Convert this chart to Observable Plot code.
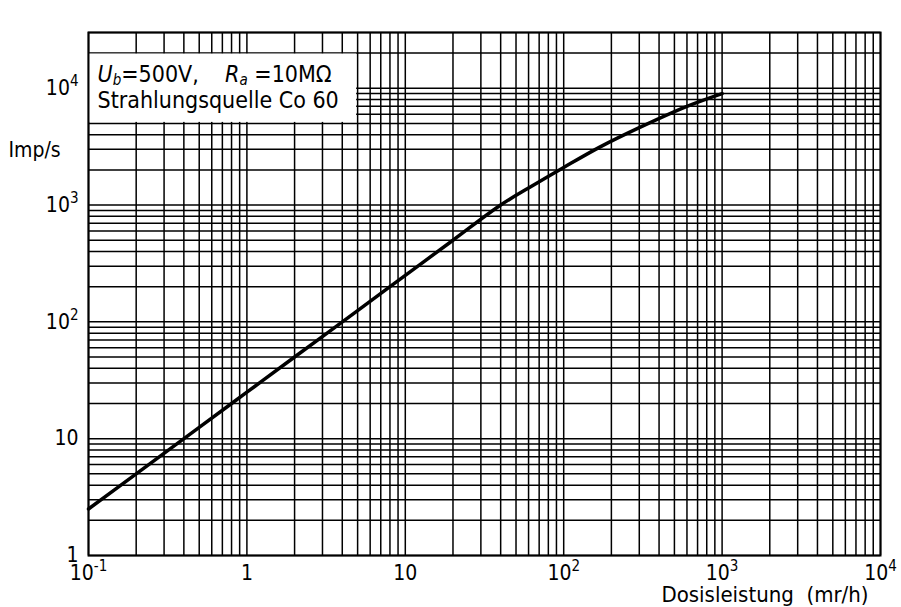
<!DOCTYPE html>
<html>
<head>
<meta charset="utf-8">
<script src="https://cdn.jsdelivr.net/npm/d3@7"></script>
<script src="https://cdn.jsdelivr.net/npm/@observablehq/plot@0.6"></script>
<style>
  html, body { margin: 0; padding: 0; background: #fff; }
  #chart svg text { white-space: pre; }
</style>
</head>
<body>
<div id="chart"></div>
<script>
// ---- data ----
const doseRate = [0.1, 0.2, 0.5, 1, 2, 5, 10, 20, 40, 60, 100, 170, 300, 600, 1000];            // mr/h
const impulses = [2.5, 5, 12.5, 25, 50, 125, 250, 500, 1000, 1400, 2100, 3150, 4600, 7000, 9000]; // Imp/s

const xDomain = [0.1, 10000];
const yDomain = [1, 30000];
const xTickValues = [0.1, 1, 10, 100, 1000, 10000];
const xTickLabels = ["10^-1", "1", "10", "10^2", "10^3", "10^4"];
const yTickValues = [1, 10, 100, 1000, 10000];
const yTickLabels = ["1", "10", "10^2", "10^3", "10^4"];

const xTitle = "Dosisleistung  (mr/h)";
const yTitle = "Imp/s";
const noteLine1 = "U_b=500V,   R_a =10MΩ";
const noteLine2 = "Strahlungsquelle Co 60";
const noteBoxX = [0.1, 5];
const noteBoxY = [5000, 20000];
const noteAnchorY = 10000;

// ---- derived ----
const curve = doseRate.map((x, i) => ({x, y: impulses[i]}));
const xGrid = d3.scaleLog().domain(xDomain).ticks(10);
const yGrid = d3.scaleLog().domain(yDomain).ticks(10);
const xLabel = new Map(xTickValues.map((v, i) => [v, xTickLabels[i]]));
const yLabel = new Map(yTickValues.map((v, i) => [v, yTickLabels[i]]));

const FONT = "'DejaVu Sans Condensed', 'Liberation Sans Narrow', 'Liberation Sans', sans-serif";

const chart = Plot.plot({
  width: 901,
  height: 607,
  marginLeft: 88,
  marginRight: 21,
  marginTop: 32,
  marginBottom: 52,
  style: {fontFamily: FONT, fontSize: "20px", color: "black", background: "white", overflow: "visible"},
  x: {type: "log", domain: xDomain, label: null},
  y: {type: "log", domain: yDomain, label: null},
  marks: [
    Plot.ruleX(xGrid, {stroke: "black", strokeWidth: 1.5}),
    Plot.ruleY(yGrid, {stroke: "black", strokeWidth: 1.5}),
    Plot.rect([noteBoxX], {x1: d => d[0], x2: d => d[1], y1: noteBoxY[0], y2: noteBoxY[1], fill: "white", inset: 1}),
    Plot.frame({stroke: "black", strokeWidth: 2}),
    Plot.line(curve, {x: "x", y: "y", curve: "catmull-rom", stroke: "black", strokeWidth: 3.5}),
    Plot.text([noteLine1], {x: noteBoxX[0], y: noteAnchorY, dx: 9, dy: -14, textAnchor: "start", fontSize: 23}),
    Plot.text([noteLine2], {x: noteBoxX[0], y: noteAnchorY, dx: 9, dy: 12, textAnchor: "start", fontSize: 23}),
    Plot.axisX(xTickValues, {tickSize: 0, tickPadding: 10, tickFormat: d => xLabel.get(d), fontSize: 21, label: null}),
    Plot.axisY(yTickValues, {tickSize: 0, tickPadding: 10, tickFormat: d => yLabel.get(d), fontSize: 21, label: null}),
    Plot.text([yTitle], {frameAnchor: "top-left", dx: -80, dy: 110, textAnchor: "start", fontSize: 21}),
    Plot.text([xTitle], {frameAnchor: "bottom-right", dx: -12, dy: 46, textAnchor: "end", fontSize: 22})
  ]
});

// ---- rich text: superscripts, italic + subscripts ----
const NS = "http://www.w3.org/2000/svg";
function setRich(el, parts) {
  el.textContent = "";
  for (const p of parts) {
    const ts = document.createElementNS(NS, "tspan");
    ts.textContent = p.t;
    if (p.italic) ts.setAttribute("font-style", "italic");
    if (p.size) ts.setAttribute("font-size", p.size);
    if (p.dy) ts.setAttribute("dy", p.dy);
    el.appendChild(ts);
  }
}
chart.querySelectorAll("text").forEach(el => {
  const s = el.textContent;
  let m;
  if ((m = /^10\^(-?\d+)$/.exec(s))) {
    setRich(el, [{t: "10"}, {t: m[1], size: "15px", dy: -9}]);
  } else if (s === noteLine1) {
    setRich(el, [
      {t: "U", italic: true},
      {t: "b", italic: true, size: "15px", dy: 3},
      {t: "=500V,    ", dy: -3},
      {t: "R", italic: true},
      {t: "a", italic: true, size: "15px", dy: 3},
      {t: " =10MΩ", dy: -3}
    ]);
  }
});

document.getElementById("chart").appendChild(chart);
</script>
</body>
</html>
